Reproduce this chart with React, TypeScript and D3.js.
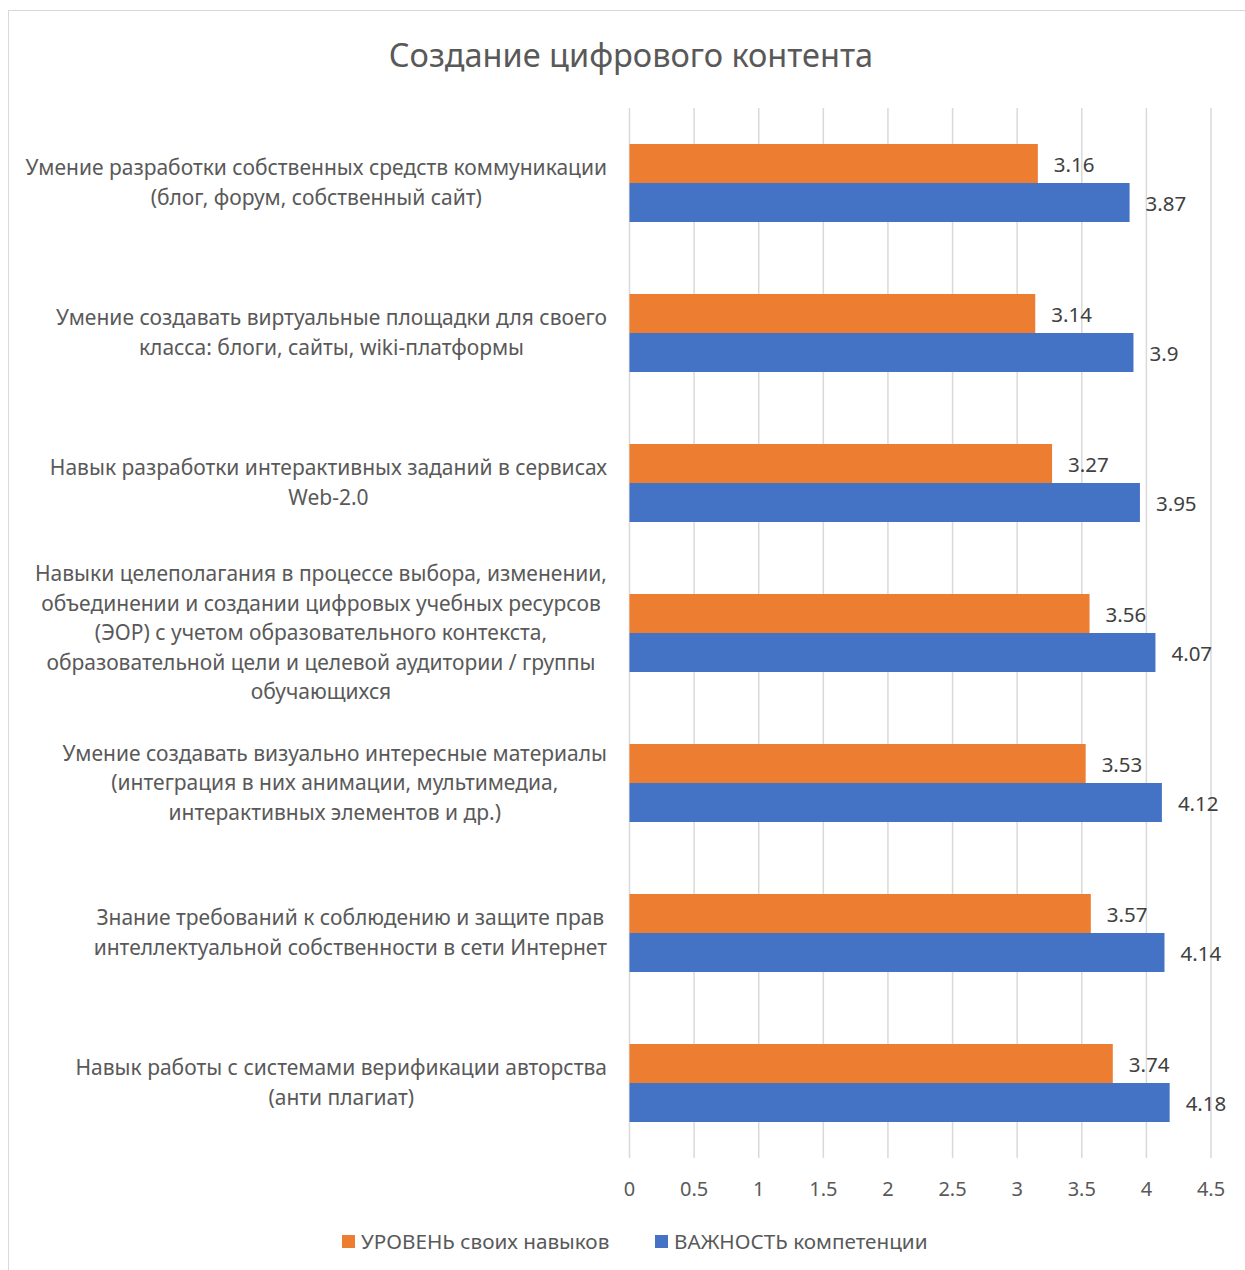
import React from "react";
import * as d3 from "d3";

const title = "Создание цифрового контента";
const categories: string[][] = [
  ["Умение разработки собственных средств коммуникации", "(блог, форум, собственный сайт)"],
  ["Умение создавать виртуальные площадки для своего", "класса: блоги, сайты, wiki-платформы"],
  ["Навык разработки интерактивных заданий в сервисах", "Web-2.0"],
  [
    "Навыки целеполагания в процессе выбора, изменении,",
    "объединении и создании цифровых учебных ресурсов",
    "(ЭОР) с учетом образовательного контекста,",
    "образовательной цели и целевой аудитории / группы",
    "обучающихся",
  ],
  [
    "Умение создавать визуально интересные материалы",
    "(интеграция в них анимации, мультимедиа,",
    "интерактивных элементов и др.)",
  ],
  ["Знание требований к соблюдению и защите прав", "интеллектуальной собственности в сети Интернет"],
  ["Навык работы с системами верификации авторства", "(анти плагиат)"],
];
const seriesNames = ["УРОВЕНЬ своих навыков", "ВАЖНОСТЬ компетенции"];
const levelValues = [3.16, 3.14, 3.27, 3.56, 3.53, 3.57, 3.74];
const importanceValues = [3.87, 3.9, 3.95, 4.07, 4.12, 4.14, 4.18];
const xTicks = [0, 0.5, 1, 1.5, 2, 2.5, 3, 3.5, 4, 4.5];
const colors = ["#ED7D31", "#4472C4"];

const FONT = "'Noto Sans', sans-serif";

function measure(text: string, size: number): number {
  const c = document.createElement("canvas");
  const ctx = c.getContext("2d")!;
  ctx.font = `${size}px 'Noto Sans'`;
  return ctx.measureText(text).width;
}

export default function App() {
  const W = 1245;
  const H = 1270;
  const x0 = 629.5;
  const x1 = 1211;
  const top = 108;
  const bottom = 1158;

  const x = d3.scaleLinear().domain([0, 4.5]).range([x0, x1]);
  const y = d3
    .scaleBand<number>()
    .domain(d3.range(categories.length))
    .range([top, bottom])
    .paddingInner(0.48)
    .paddingOuter(0.24);
  const sub = d3.scaleBand<number>().domain([0, 1]).range([0, y.bandwidth()]);

  const labelSize = 21;
  const lineH = 29.5;
  const labelRight = 607;

  const series = [levelValues, importanceValues];
  const fmt = (v: number) => String(v);

  return (
    <svg
      width={W}
      height={H}
      style={{ position: "absolute", left: 0, top: 0, background: "#fff" }}
      fontFamily={FONT}
    >
      <rect x={8.5} y={10.5} width={1260} height={1300} fill="#fff" stroke="#d9d9d9" strokeWidth={1} />
      <text x={631} y={54} textAnchor="middle" dominantBaseline="central" fontSize={32.5} fill="#595959">
        {title}
      </text>
      {xTicks.map((t) => (
        <g key={t}>
          <line x1={x(t)} x2={x(t)} y1={top} y2={bottom} stroke="#d9d9d9" strokeWidth={1.5} />
          <text x={x(t)} y={1188} textAnchor="middle" dominantBaseline="central" fontSize={20} fill="#595959">
            {fmt(t)}
          </text>
        </g>
      ))}
      {categories.map((lines, i) => {
        const band = y(i)!;
        const center = band + y.bandwidth() / 2 - 1;
        const maxW = d3.max(lines, (l) => measure(l, labelSize)) || 0;
        const cx = labelRight - maxW / 2;
        const startY = center - ((lines.length - 1) * lineH) / 2;
        return (
          <g key={i}>
            {lines.map((l, j) => (
              <text
                key={j}
                x={cx}
                y={startY + j * lineH}
                textAnchor="middle"
                dominantBaseline="central"
                fontSize={labelSize}
                fill="#595959"
              >
                {l}
              </text>
            ))}
            {series.map((vals, s) => {
              const by = band + sub(s)!;
              const bh = sub.bandwidth();
              return (
                <g key={s}>
                  <rect x={x(0)} y={by} width={x(vals[i]) - x(0)} height={bh} fill={colors[s]} />
                  <text
                    x={x(vals[i]) + 16}
                    y={by + bh / 2}
                    dominantBaseline="central"
                    fontSize={20.5}
                    fill="#404040"
                  >
                    {fmt(vals[i])}
                  </text>
                </g>
              );
            })}
          </g>
        );
      })}
      {seriesNames.map((name, s) => {
        const lx = s === 0 ? 342 : 655;
        return (
          <g key={name}>
            <rect x={lx} y={1235} width={13} height={13} fill={colors[s]} />
            <text x={lx + 19} y={1241} dominantBaseline="central" fontSize={20.7} fill="#595959">
              {name}
            </text>
          </g>
        );
      })}
    </svg>
  );
}
